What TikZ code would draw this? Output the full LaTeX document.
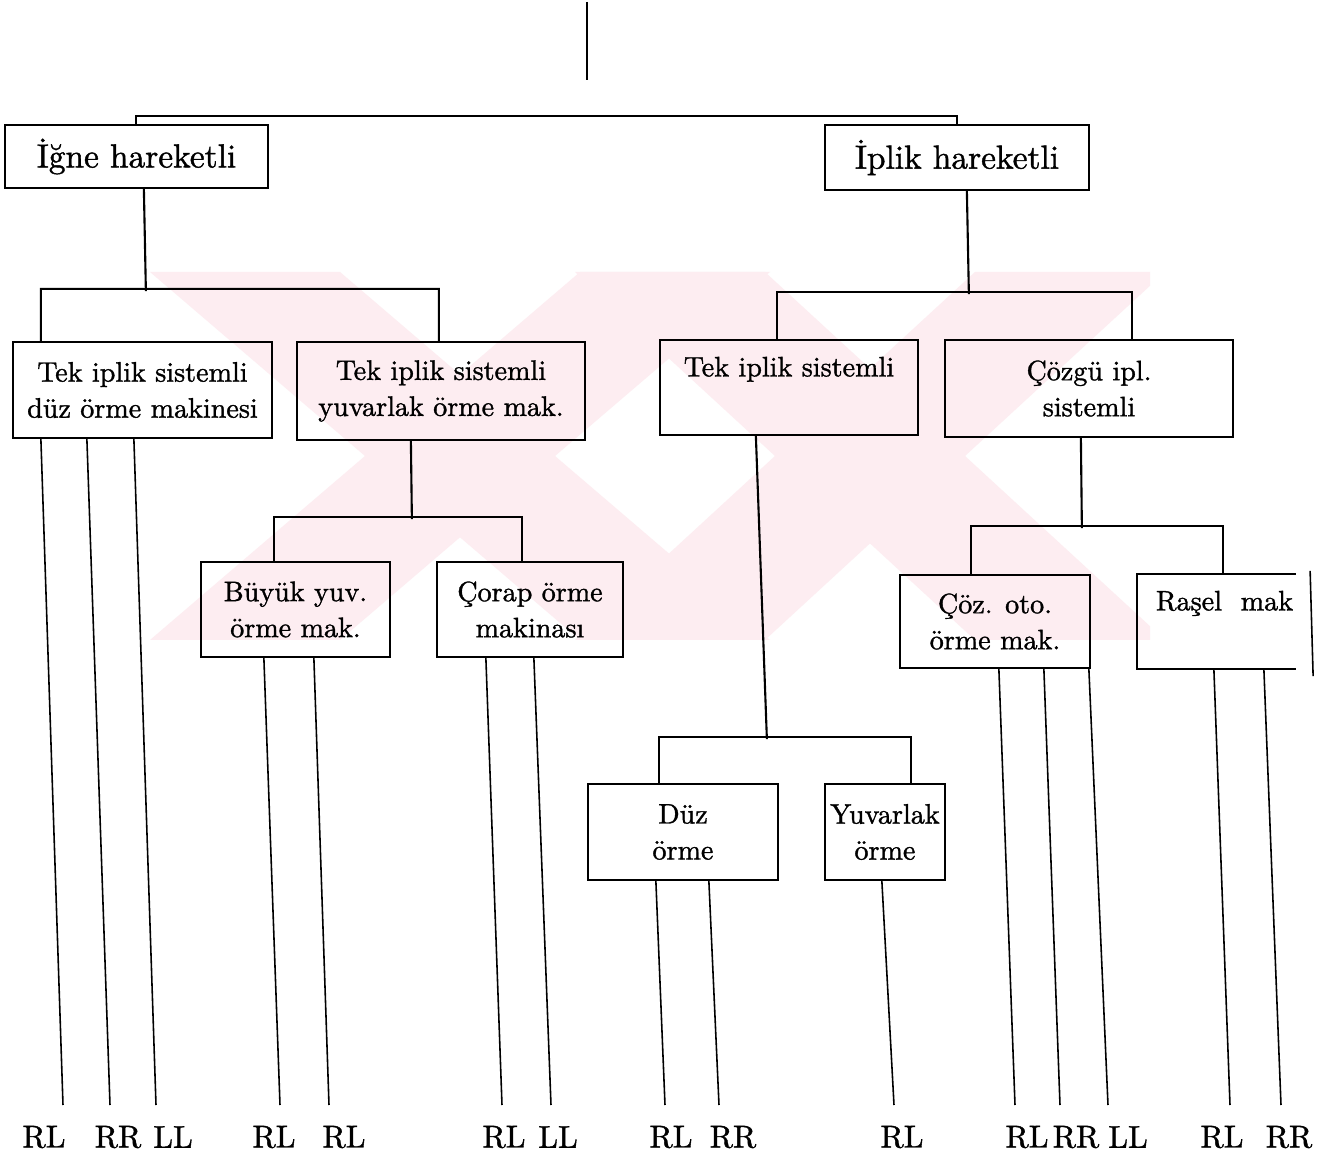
\documentclass[tikz,border=0pt]{standalone}
\usepackage{fontspec}
\setmainfont{lmroman10-regular.otf}[FakeBold=1.2]
\usetikzlibrary{calc}
\definecolor{wmpink}{RGB}{253,237,241}
\begin{document}
\begin{tikzpicture}[x=0.02cm,y=-0.02cm,
  box/.style={draw,line width=1.3pt,inner sep=0pt,align=center,font=\fontsize{16}{20.5}\selectfont},
  bigbox/.style={box,font=\fontsize{19}{23}\selectfont},
  conn/.style={line width=1.2pt},
  leaf/.style={line width=0.9pt},
  lbl/.style={font=\fontsize{18}{20}\selectfont,inner sep=0pt}]
\useasboundingbox[fill=white] (0,0) rectangle (1340,1155);

% faint watermark
\begin{scope}
\clip (145,272) rectangle (1150,640);
\fill[wmpink] (150,272) -- (340,272) -- (770,640) -- (580,640) -- cycle;
\fill[wmpink] (580,272) -- (770,272) -- (340,640) -- (150,640) -- cycle;
\fill[wmpink] (575,272) -- (765,272) -- (1165,640) -- (975,640) -- cycle;
\fill[wmpink] (975,272) -- (1165,272) -- (765,640) -- (575,640) -- cycle;
\end{scope}

% boxes
\node[bigbox,minimum width=5.26cm,minimum height=1.26cm] (top1) at (136.5,156.5) {İğne hareketli};
\node[bigbox,minimum width=5.28cm,minimum height=1.30cm] (top2) at (957,157.5) {İplik hareketli};
\node[box,minimum width=5.18cm,minimum height=1.92cm] (A) at (142.5,390) {Tek iplik sistemli\\düz örme makinesi};
\node[box,minimum width=5.76cm,minimum height=1.96cm] (B) at (441,391) {Tek iplik sistemli\\yuvarlak örme mak.};
\node[box,minimum width=5.16cm,minimum height=1.90cm] (C) at (789,387.5) {Tek iplik sistemli\\\phantom{Tg}};
\node[box,minimum width=5.76cm,minimum height=1.94cm] (D) at (1089,388.5) {Çözgü ipl.\\sistemli};
\node[box,minimum width=3.78cm,minimum height=1.90cm] (E) at (295.5,609.5) {Büyük yuv.\\örme mak.};
\node[box,minimum width=3.72cm,minimum height=1.90cm] (F) at (530,609.5) {Çorap örme\\makinası};
\node[box,minimum width=3.80cm,minimum height=1.86cm] (G) at (995,621.5) {Çöz. oto.\\örme mak.};
\node[box,draw=none,minimum width=3.46cm,minimum height=1.86cm] (H) at (1224.5,621.5) {Raşel\ \ mak\\\phantom{Tg}};
\node[box,minimum width=3.80cm,minimum height=1.92cm] (I) at (683,832) {Düz\\örme};
\node[box,minimum width=2.40cm,minimum height=1.92cm] (J) at (885,832) {Yuvarlak\\örme};

% open box H
\draw[line width=1.3pt] ($(H.north west)+(159,0)$) -- (H.north west) -- (H.south west) -- ($(H.south west)+(159,0)$);
\draw[leaf] ($(H.north east)+(-2,-3)$) -- ($(H.south east)+(1,7)$);

% root stub
\coordinate (r0) at (587,2);
\coordinate (r1) at (587,80);
\draw[conn] (r0) -- (r1);

% tree connectors
\draw[conn] ($(top1.north west)+(132,0)$) -- ++(0,-8) -- ($(top2.north west)+(133,-8)$) -- ++(0,8);
\draw[conn] ($(top1.south west)+(140,0)$) -- ++(2,102);
\draw[conn] ($(A.north west)+(29,0)$) -- ++(0,-52) -- ($(B.north west)+(143,-52)$) -- ++(0,52);
\draw[conn] ($(top2.south west)+(143,0)$) -- ++(2,103);
\draw[conn] ($(C.north west)+(118,0)$) -- ++(0,-47) -- ($(D.north west)+(188,-47)$) -- ++(0,47);
\draw[conn] ($(B.south west)+(115,0)$) -- ++(1,78);
\draw[conn] ($(E.north west)+(74,0)$) -- ++(0,-44) -- ($(F.north west)+(86,-44)$) -- ++(0,44);
\draw[conn] ($(D.south west)+(137,0)$) -- ++(1,90);
\draw[conn] ($(G.north west)+(72,0)$) -- ++(0,-48) -- ($(H.north west)+(86,-48)$) -- ++(0,48);
\draw[conn] ($(C.south west)+(97,0)$) -- ($(C.south west)+(108,303)$);
\draw[conn] ($(I.north west)+(72,0)$) -- ++(0,-46) -- ($(J.north west)+(87,-46)$) -- ++(0,46);

% leaf ends
\coordinate (eA1) at (63,1105);  \coordinate (eA2) at (110,1105); \coordinate (eA3) at (156,1105);
\coordinate (eE1) at (280,1105); \coordinate (eE2) at (329,1105);
\coordinate (eF1) at (502,1105); \coordinate (eF2) at (551,1105);
\coordinate (eI1) at (665,1105); \coordinate (eI2) at (719,1105);
\coordinate (eJ1) at (894,1105);
\coordinate (eG1) at (1015,1105); \coordinate (eG2) at (1060,1105); \coordinate (eG3) at (1108,1105);
\coordinate (eH1) at (1230,1105); \coordinate (eH2) at (1281,1105);

\draw[leaf] ($(A.south west)+(29,0)$) -- (eA1);
\draw[leaf] ($(A.south west)+(75,0)$) -- (eA2);
\draw[leaf] ($(A.south west)+(122,0)$) -- (eA3);
\draw[leaf] ($(E.south west)+(64,0)$) -- (eE1);
\draw[leaf] ($(E.south west)+(114,0)$) -- (eE2);
\draw[leaf] ($(F.south west)+(50,0)$) -- (eF1);
\draw[leaf] ($(F.south west)+(98,0)$) -- (eF2);
\draw[leaf] ($(I.south west)+(69,0)$) -- (eI1);
\draw[leaf] ($(I.south west)+(122,0)$) -- (eI2);
\draw[leaf] ($(J.south west)+(58,0)$) -- (eJ1);
\draw[leaf] ($(G.south west)+(100,0)$) -- (eG1);
\draw[leaf] ($(G.south west)+(145,0)$) -- (eG2);
\draw[leaf] ($(G.south west)+(190,0)$) -- (eG3);
\draw[leaf] ($(H.south west)+(77,0)$) -- (eH1);
\draw[leaf] ($(H.south west)+(127,0)$) -- (eH2);

% leaf labels
\node[lbl] (lA1) at (44,1137) {RL};
\node[lbl] (lA2) at (118,1137) {RR};
\node[lbl] (lA3) at (173,1137) {LL};
\node[lbl] (lE1) at (274,1137) {RL};
\node[lbl] (lE2) at (344,1137) {RL};
\node[lbl] (lF1) at (504,1137) {RL};
\node[lbl] (lF2) at (558,1137) {LL};
\node[lbl] (lI1) at (671,1137) {RL};
\node[lbl] (lI2) at (733,1137) {RR};
\node[lbl] (lJ1) at (902,1137) {RL};
\node[lbl] (lG1) at (1027,1137) {RL};
\node[lbl] (lG2) at (1076,1137) {RR};
\node[lbl] (lG3) at (1128,1137) {LL};
\node[lbl] (lH1) at (1222,1137) {RL};
\node[lbl] (lH2) at (1289,1137) {RR};
\end{tikzpicture}
\end{document}
